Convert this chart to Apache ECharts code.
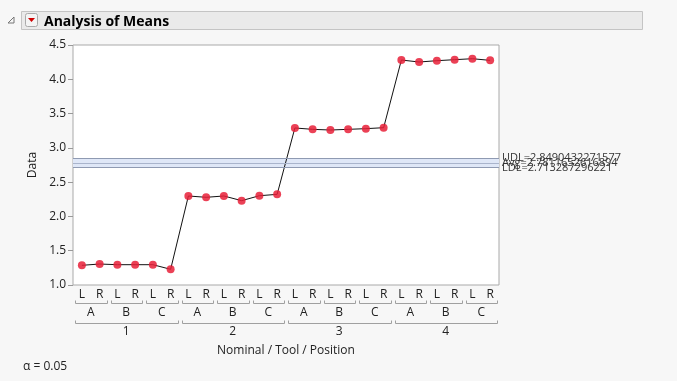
<!DOCTYPE html>
<html><head><meta charset="utf-8">
<script src="https://cdn.jsdelivr.net/npm/echarts@6/dist/echarts.min.js"></script>
<style>html,body{margin:0;padding:0;background:#f7f7f7;}#c{width:677px;height:381px;}</style>
</head><body><div id="c"></div>
<script>
const positions = ['L','R','L','R','L','R','L','R','L','R','L','R','L','R','L','R','L','R','L','R','L','R','L','R'];
const tools = ['A','B','C','A','B','C','A','B','C','A','B','C'];
const nominals = ['1','2','3','4'];
const dataValues = [1.287,1.306,1.296,1.296,1.296,1.229,
                    2.298,2.279,2.298,2.230,2.302,2.322,
                    3.290,3.270,3.260,3.270,3.280,3.294,
                    4.281,4.252,4.271,4.286,4.300,4.276];
const UDL = 2.8490432271577, AVG = 2.7811652616894, LDL = 2.713287296221;

const FONT = '"Open Sans","Noto Sans",sans-serif';
const chart = echarts.init(document.getElementById('c'), null, {renderer:'canvas'});

// brackets: [startIndex, endIndex, level]
const brackets = [];
for (let i = 0; i < 24; i += 2) brackets.push([i, i+1, 0]);
for (let i = 0; i < 24; i += 6) brackets.push([i, i+5, 1]);

const GRID = {left:73, right:178, top:45, height:240};

chart.setOption({
  backgroundColor:'#f7f7f7',
  animation:false,
  grid:{left:GRID.left, right:GRID.right, top:GRID.top, height:GRID.height, show:true, backgroundColor:'#fff', borderColor:'#a9a9a9', borderWidth:1},
  title:{text:'Analysis of Means', left:39, top:10, textStyle:{fontFamily:FONT, fontSize:14, fontWeight:'bold', color:'#000'}},
  graphic:[
    {type:'rect', z:-1, shape:{x:21.5,y:11.5,width:621,height:18}, style:{fill:'#eaeaea', stroke:'#c4c4c4', lineWidth:1}},
    {type:'polygon', shape:{points:[[8,23],[14,17],[14,23]]}, style:{fill:'none', stroke:'#777', lineWidth:1}},
    {type:'rect', shape:{x:25.5,y:13.5,width:12,height:13,r:2}, style:{fill:'#f4f4f4', stroke:'#aaa', lineWidth:1}},
    {type:'polygon', shape:{points:[[28,18],[35,18],[31.5,22]]}, style:{fill:'#d00000'}},
    {type:'text', left:23, top:361, style:{text:'\u03b1 = 0.05', fontFamily:FONT, fontSize:12, fill:'#222'}}
  ],
  xAxis:[
    {type:'category', data:positions, boundaryGap:true, position:'bottom',
     axisLine:{show:false}, axisTick:{show:false}, splitLine:{show:false},
     axisLabel:{interval:0, margin:4, fontFamily:FONT, fontSize:12, color:'#222'},
     name:'Nominal / Tool / Position', nameLocation:'middle', nameGap:60,
     nameTextStyle:{fontFamily:FONT, fontSize:12, color:'#222'}},
    {type:'category', data:tools, boundaryGap:true, position:'bottom', offset:20,
     axisLine:{show:false}, axisTick:{show:false},
     axisLabel:{interval:0, margin:2, fontFamily:FONT, fontSize:12, color:'#222'}},
    {type:'category', data:nominals, boundaryGap:true, position:'bottom', offset:39,
     axisLine:{show:false}, axisTick:{show:false},
     axisLabel:{interval:0, margin:2, fontFamily:FONT, fontSize:12, color:'#222'}}
  ],
  yAxis:{type:'value', min:1, max:4.5, interval:0.5,
    name:'Data', nameLocation:'middle', nameGap:33, nameRotate:90,
    nameTextStyle:{fontFamily:FONT, fontSize:12, color:'#222'},
    axisLine:{show:false}, axisTick:{show:true, length:5, lineStyle:{color:'#999'}},
    splitLine:{show:false},
    axisLabel:{margin:7, fontFamily:FONT, fontSize:12, color:'#222', formatter:v=>v.toFixed(1)}},
  series:[
    {type:'line', xAxisIndex:0, data:[], silent:true,
     markArea:{silent:true, itemStyle:{color:'#dfe7f7'}, data:[[{yAxis:LDL},{yAxis:UDL}]]},
     markLine:{silent:true, symbol:'none', lineStyle:{type:'solid', width:1, color:'#8f9ab2'},
       label:{position:'end', distance:3, fontFamily:FONT, fontSize:11, color:'#333', formatter:p=>p.name},
       data:[{yAxis:UDL, name:'UDL='+UDL}, {yAxis:AVG, name:'Avg='+AVG, lineStyle:{color:'#a9b4cc'}}, {yAxis:LDL, name:'LDL='+LDL}]}},
    {type:'line', xAxisIndex:0, data:dataValues, symbol:'circle', symbolSize:8, z:3,
     lineStyle:{color:'#111', width:1}, itemStyle:{color:'rgba(232,32,56,0.85)', borderWidth:0}},
    {type:'custom', xAxisIndex:0, clip:false, silent:true, z:2,
     data:brackets,
     renderItem:(params, api)=>{
       const s = api.value(0), e = api.value(1), lvl = api.value(2);
       const half = api.size([1,0])[0]/2;
       const x0 = Math.round(api.coord([s, 1])[0] - half + 2) + 0.5;
       const x1 = Math.round(api.coord([e, 1])[0] + half - 2) + 0.5;
       const yb = GRID.top + GRID.height + (lvl === 0 ? 18 : 38) + 0.5;
       return {type:'polyline', shape:{points:[[x0,yb-3],[x0,yb],[x1,yb],[x1,yb-3]]},
               style:{stroke:'#a0a0a0', lineWidth:1, fill:'none'}};
     }}
  ]
});
</script></body></html>
